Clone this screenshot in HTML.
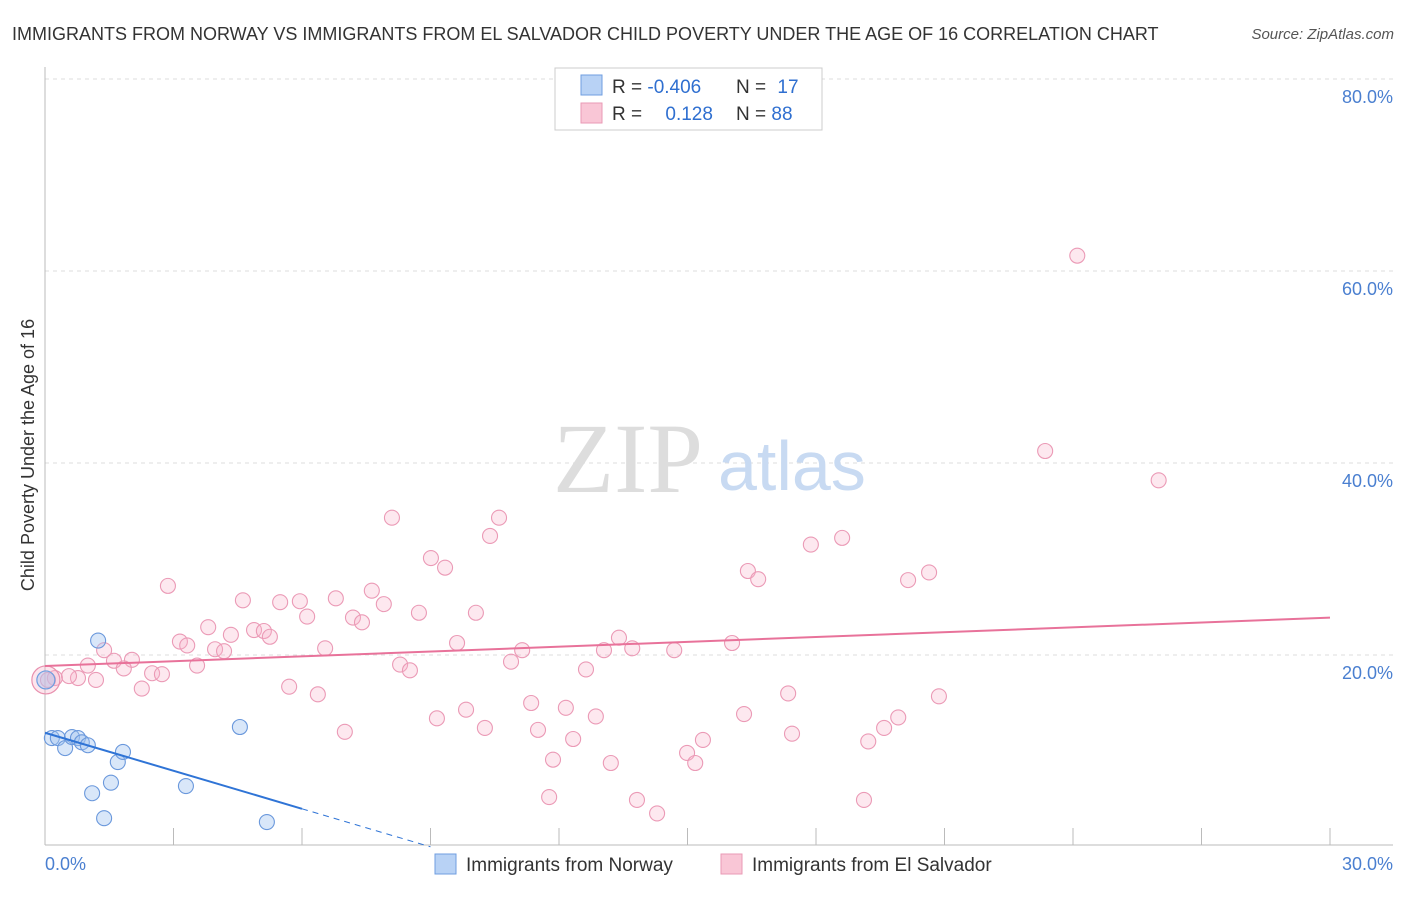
<!DOCTYPE html>
<html><head><meta charset="utf-8"><style>
body{margin:0;background:#fff;font-family:"Liberation Sans",sans-serif}
</style></head><body>
<svg width="1406" height="892" viewBox="0 0 1406 892" xmlns="http://www.w3.org/2000/svg" font-family="Liberation Sans, sans-serif">
<text x="12" y="40" font-size="18" fill="#333">IMMIGRANTS FROM NORWAY VS IMMIGRANTS FROM EL SALVADOR CHILD POVERTY UNDER THE AGE OF 16 CORRELATION CHART</text>
<text x="1394" y="39" font-size="15" fill="#555" font-style="italic" text-anchor="end">Source: ZipAtlas.com</text>
<g id="grid"></g>
<text x="553" y="492" font-size="100" font-family="Liberation Serif, serif" fill="#ddd">ZIP</text>
<text x="718" y="490" font-size="70" fill="#c8daf2">atlas</text>
<g id="axes"></g>
<g id="pts"></g>
<g id="trends"></g>
<text x="34" y="455" font-size="18" fill="#333" text-anchor="middle" transform="rotate(-90 34 455)">Child Poverty Under the Age of 16</text>
<text x="45" y="870" font-size="18" fill="#4a7fd0">0.0%</text>
<text x="1393" y="870" font-size="18" fill="#4a7fd0" text-anchor="end">30.0%</text>
<g>
<rect x="555" y="68" width="267" height="62" fill="#fff" stroke="#ccc"/>
<rect x="581" y="75" width="21" height="20" fill="#b8d2f5" stroke="#6f9ee0"/>
<rect x="581" y="103" width="21" height="20" fill="#f9c6d6" stroke="#e99ab5"/>
<text x="612" y="93" font-size="19" fill="#333">R = <tspan fill="#2f6fd0">-0.406</tspan></text>
<text x="736" y="93" font-size="19" fill="#333">N = <tspan fill="#2f6fd0" dx="6">17</tspan></text>
<text x="612" y="120" font-size="19" fill="#333">R = <tspan fill="#2f6fd0" dx="18">0.128</tspan></text>
<text x="736" y="120" font-size="19" fill="#333">N = <tspan fill="#2f6fd0">88</tspan></text>
</g>
<g>
<rect x="435" y="854" width="21" height="20" fill="#b8d2f5" stroke="#6f9ee0"/>
<text x="466" y="871" font-size="19" fill="#333">Immigrants from Norway</text>
<rect x="721" y="854" width="21" height="20" fill="#f9c6d6" stroke="#e99ab5"/>
<text x="752" y="871" font-size="19" fill="#333">Immigrants from El Salvador</text>
</g>
</svg>
<script>
const yTicks=[20,40,60,80];
const yTickLabels=["20.0%","40.0%","60.0%","80.0%"];
const xTicks=[0,3,6,9,12,15,18,21,24,27,30];
const pinkX=[24.1,23.35,26.0,8.1,10.6,10.39,9.01,9.34,17.88,18.61,16.41,16.65,20.15,20.64,2.87,4.62,5.49,5.95,6.79,7.63,7.91,8.73,10.06,6.12,7.19,7.40,3.81,4.88,5.11,5.25,4.34,3.15,3.32,3.97,4.18,6.54,9.62,11.14,13.40,13.05,13.71,14.69,16.04,1.38,1.0,1.61,2.03,1.84,2.50,2.73,3.55,1.19,0.77,0.56,2.26,0.23,0.07,5.70,6.37,8.29,8.52,10.88,12.63,17.35,20.87,7.0,9.15,9.83,10.27,11.35,12.16,11.51,12.86,12.33,16.32,17.44,19.59,19.92,19.22,15.36,14.99,11.86,13.21,15.18,11.77,13.82,14.29,19.12];
const pinkY=[61.6,41.25,38.2,34.3,34.3,32.4,30.1,29.1,31.5,32.2,28.75,27.9,27.8,28.6,27.2,25.7,25.5,25.6,25.9,26.7,25.3,24.4,24.4,24.0,23.9,23.4,22.9,22.6,22.5,21.9,22.1,21.4,21.0,20.6,20.4,20.7,21.25,20.5,21.8,20.5,20.7,20.5,21.25,20.5,18.9,19.4,19.5,18.6,18.1,18.0,18.9,17.4,17.6,17.8,16.5,17.6,17.4,16.7,15.9,19.0,18.4,19.3,18.5,16.0,15.7,12.0,13.4,14.3,12.4,15.0,14.5,12.2,13.6,11.25,13.85,11.8,12.4,13.5,11.0,11.15,9.8,9.1,8.75,8.75,5.2,4.9,3.5,4.9];
const blueX=[1.24,4.55,0.16,0.30,0.47,0.63,0.77,0.86,1.0,1.70,1.82,1.54,1.10,3.29,1.38,5.18];
const blueY=[21.5,12.5,11.35,11.35,10.3,11.45,11.35,10.9,10.6,8.85,9.9,6.7,5.6,6.35,3.0,2.6];
const bigPoint={x:0.02,y:17.4};
const blueTrend=[11.9,-1.32];
const pinkTrend=[18.85,0.168];
const NS='http://www.w3.org/2000/svg';
const X=v=>45+v*(1285/30), Y=v=>847-v*9.6;
function mk(t,a,p){const e=document.createElementNS(NS,t);for(const k in a)e.setAttribute(k,a[k]);p.appendChild(e);return e;}
const grid=document.getElementById('grid'),axes=document.getElementById('axes'),pts=document.getElementById('pts'),tr=document.getElementById('trends');
yTicks.forEach((t,i)=>{
 const l=mk('line',{x1:45,x2:1393,y1:Y(t),y2:Y(t),stroke:'#ddd','stroke-dasharray':'4,4'},grid);
 
 
 const tx=mk('text',{x:1393,y:Y(t)+24,'font-size':18,fill:'#4a7fd0','text-anchor':'end'},grid);
 tx.textContent=yTickLabels[i];
 
 
});
const ya=mk('line',{x1:45,x2:45,y1:67,y2:845,stroke:'#bbb'},axes);


const xa=mk('line',{x1:45,x2:1393,y1:845,y2:845,stroke:'#bbb'},axes);


xTicks.forEach(t=>{const l=mk('line',{x1:X(t),x2:X(t),y1:828,y2:845,stroke:'#bbb'},axes);
 
 });
pinkX.forEach((x,i)=>{const c=mk('circle',{cx:X(x),cy:Y(pinkY[i]),r:7.5,fill:'rgba(248,180,202,0.3)',stroke:'#eb9ab6','stroke-width':1.1},pts);
 
 });
const b1=mk('circle',{cx:X(bigPoint.x),cy:Y(bigPoint.y),r:14,fill:'rgba(248,180,202,0.35)',stroke:'#e890ae','stroke-width':1.2},pts);


const b2=mk('circle',{cx:X(bigPoint.x),cy:Y(bigPoint.y),r:9,fill:'rgba(160,195,240,0.4)',stroke:'#6f9ee0','stroke-width':1.2},pts);


blueX.forEach((x,i)=>{const c=mk('circle',{cx:X(x),cy:Y(blueY[i]),r:7.5,fill:'rgba(160,195,240,0.4)',stroke:'#6a98dc','stroke-width':1.1},pts);
 
 });
const bt=x=>blueTrend[0]+blueTrend[1]*x, pt=x=>pinkTrend[0]+pinkTrend[1]*x;
const l1=mk('line',{x1:X(0),y1:Y(bt(0)),x2:X(6),y2:Y(bt(6)),stroke:'#2f74d6','stroke-width':2},tr);


const l2=mk('line',{x1:X(6),y1:Y(bt(6)),x2:X(9),y2:Y(bt(9)),stroke:'#2f74d6','stroke-width':1,'stroke-dasharray':'6,5'},tr);


const l3=mk('line',{x1:X(0),y1:Y(pt(0)),x2:X(30),y2:Y(pt(30)),stroke:'#e8729a','stroke-width':2},tr);


</script>
</body></html>
